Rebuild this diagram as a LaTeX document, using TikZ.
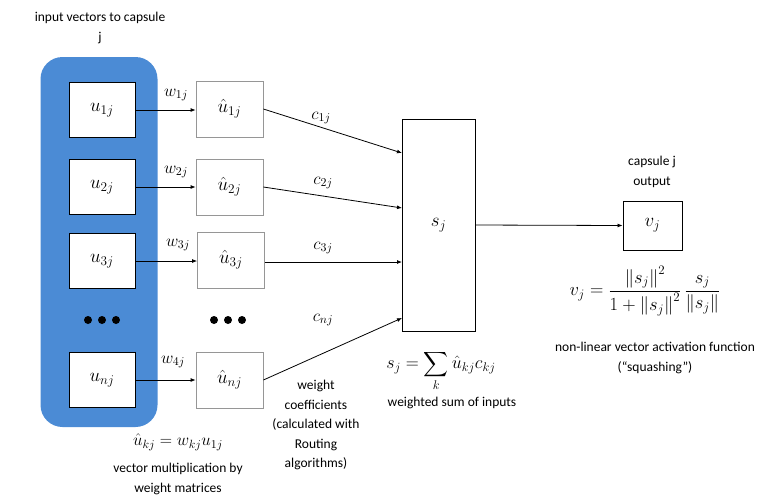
\documentclass[tikz,border=0pt]{standalone}
\usepackage{fix-cm}
\usepackage{exscale}
\usepackage{fontspec}
\setmainfont{Carlito}
\usetikzlibrary{arrows.meta}
\definecolor{capblue}{RGB}{75,139,213}
\definecolor{boxgray}{RGB}{150,150,150}
\tikzset{
  ubox/.style={draw=black, line width=0.9pt, fill=white, minimum width=66pt, minimum height=55pt, inner sep=0pt, font=\fontsize{19}{21}\selectfont},
  hbox/.style={draw=boxgray, line width=0.8pt, fill=white, minimum width=67pt, minimum height=56pt, inner sep=0pt, font=\fontsize{19}{21}\selectfont},
  conn/.style={line width=0.8pt, -{Latex[length=5pt,width=4pt]}},
  lbl/.style={font=\fontsize{17}{19}\selectfont, inner sep=0pt},
  txt/.style={font=\fontsize{13.5}{19.5}\selectfont, align=center, inner sep=0pt},
  dot/.style={circle, fill=black, inner sep=0pt, minimum size=8pt}
}
\begin{document}
\begin{tikzpicture}[x=1pt,y=-1pt]
\useasboundingbox (0,0) rectangle (774,499);
% blue capsule container
\node[fill=capblue, rounded corners=22pt, minimum width=117pt, minimum height=370pt, inner sep=0pt] (cap) at (99,242) {};
% u boxes
\node[ubox] (u1) at (102,110) {$u_{1j}$};
\node[ubox] (u2) at (102,187) {$u_{2j}$};
\node[ubox] (u3) at (102,261) {$u_{3j}$};
\node[ubox] (un) at (102,380) {$u_{nj}$};
\node[dot] (d1) at (88,320) {};
\node[dot] (d2) at (102,320) {};
\node[dot] (d3) at (116,320) {};
% u-hat boxes
\node[hbox] (h1) at (229.5,109) {$\hat{u}_{1j}$};
\node[hbox] (h2) at (229.5,187) {$\hat{u}_{2j}$};
\node[hbox] (h3) at (231,260) {$\hat{u}_{3j}$};
\node[hbox] (hn) at (229.5,380) {$\hat{u}_{nj}$};
\node[dot] (e1) at (214,320) {};
\node[dot] (e2) at (228,320) {};
\node[dot] (e3) at (242,320) {};
% s box
\node[draw=black, line width=0.9pt, fill=white, minimum width=73pt, minimum height=212pt, inner sep=0pt, font=\fontsize{19}{21}\selectfont] (s) at (438.5,225) {$s_j$};
% v box
\node[draw=black, line width=0.9pt, fill=white, minimum width=59pt, minimum height=49pt, inner sep=0pt, font=\fontsize{19}{21}\selectfont] (v) at (652.5,225.5) {$v_j$};
% u -> u-hat
\draw[conn] (u1.east) -- (h1.west |- u1.east);
\draw[conn] (u2.east) -- (h2.west |- u2.east);
\draw[conn] (u3.east) -- (h3.west |- u3.east);
\draw[conn] (un.east) -- (hn.west |- un.east);
\node[lbl] (w1) at (176,95) {$w_{1j}$};
\node[lbl] (w2) at (176,172) {$w_{2j}$};
\node[lbl] (w3) at (178,245) {$w_{3j}$};
\node[lbl] (w4) at (173,362) {$w_{4j}$};
% u-hat -> s
\coordinate (t1) at (402,153);
\coordinate (t2) at (402,208);
\coordinate (t3) at (402,262);
\coordinate (tn) at (402,318);
\draw[conn] (h1.east) -- (t1);
\draw[conn] (h2.east) -- (t2);
\draw[conn] (h3.east |- t3) -- (t3);
\draw[conn] (hn.east) -- (tn);
\node[lbl] (c1) at (321,118) {$c_{1j}$};
\node[lbl] (c2) at (323,183) {$c_{2j}$};
\node[lbl] (c3) at (323,248) {$c_{3j}$};
\node[lbl] (cn) at (323,320) {$c_{nj}$};
% s -> v
\draw[conn] (s.east) -- (v.west);
% texts
\node[txt] (title) at (100,28) {input vectors to capsule\\j};
\node[txt] (capout) at (652,172) {capsule j\\output};
\node[txt, font=\fontsize{18.5}{21}\selectfont] (vform) at (645,291) {$\displaystyle v_j=\frac{\left\|s_j\right\|^2}{1+\left\|s_j\right\|^2}\,\frac{s_j}{\left\|s_j\right\|}$};
\node[txt] (squash) at (655,358) {non-linear vector activation function\\(“squashing”)};
\node[txt, font=\fontsize{18}{21}\selectfont] (sform) at (441,371) {$\displaystyle s_j=\sum_k \hat{u}_{kj}c_{kj}$};
\node[txt] (wsum) at (452,403) {weighted sum of inputs};
\node[txt] (wcoef) at (316,425) {weight\\coefficients\\(calculated with\\Routing\\algorithms)};
\node[txt, font=\fontsize{17}{19}\selectfont] (uform) at (178,442) {$\hat{u}_{kj}=w_{kj}u_{1j}$};
\node[txt] (vmul) at (178,479) {vector multiplication by\\weight matrices};
\end{tikzpicture}
\end{document}
